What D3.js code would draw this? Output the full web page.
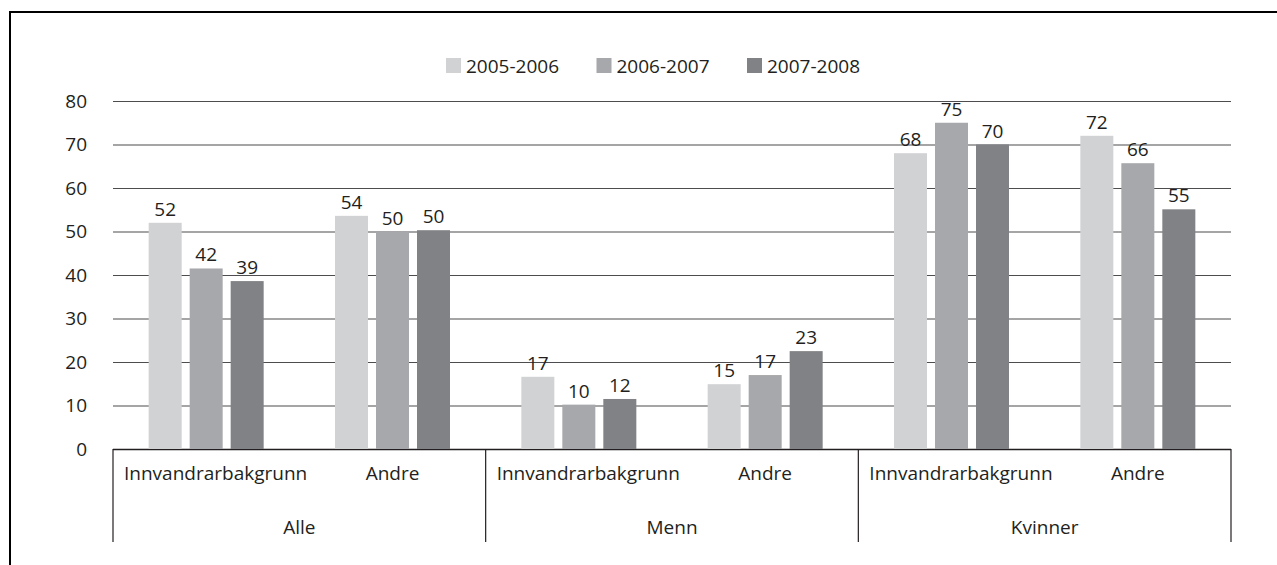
<!DOCTYPE html>
<html lang="no">
<head>
    <meta charset="UTF-8">
    <title>Innvandrarbakgrunn / Andre</title>
    <script src="https://d3js.org/d3.v7.min.js"></script>
    <style>
        body {
            margin: 0;
            background: #fff;
            font-family: "Open Sans", sans-serif;
        }
        svg text {
            fill: #231f20;
        }
    </style>
</head>
<body>
    <svg id="chart" width="1277" height="565"></svg>

    <script>
    // data
    const groups = ["Alle", "Menn", "Kvinner"];
    const subgroups = ["Innvandrarbakgrunn", "Andre"];
    const periods = ["2005-2006", "2006-2007", "2007-2008"];
    const colors = ["#d1d2d4", "#a7a8ab", "#808285"];

    // one row per group+subgroup, one value per period
    const alleInnv = [52.0, 41.5, 38.6];
    const alleAndre = [53.6, 50.0, 50.3];
    const mennInnv = [16.6, 10.2, 11.5];
    const mennAndre = [14.9, 17.0, 22.5];
    const kvinnerInnv = [68.0, 75.0, 70.0];
    const kvinnerAndre = [72.0, 65.7, 55.1];

    const yTicks = [0, 10, 20, 30, 40, 50, 60, 70, 80];

    const rows = [
        { group: "Alle", sub: "Innvandrarbakgrunn", values: alleInnv },
        { group: "Alle", sub: "Andre", values: alleAndre },
        { group: "Menn", sub: "Innvandrarbakgrunn", values: mennInnv },
        { group: "Menn", sub: "Andre", values: mennAndre },
        { group: "Kvinner", sub: "Innvandrarbakgrunn", values: kvinnerInnv },
        { group: "Kvinner", sub: "Andre", values: kvinnerAndre }
    ];

    const svg = d3.select("#chart");
    const fontSize = 19;

    // frame around the figure (only top and left show in the crop)
    svg.append("rect")
        .attr("x", 10)
        .attr("y", 12)
        .attr("width", 1300)
        .attr("height", 600)
        .style("fill", "none")
        .style("stroke", "#000")
        .style("stroke-width", 2);

    const plotLeft = 113, plotRight = 1231, plotTop = 101, plotBottom = 449;

    const y = d3.scaleLinear().domain([0, 80]).range([plotBottom, plotTop]);

    const xGroup = d3.scaleBand().domain(groups).range([plotLeft, plotRight]);
    const xSub = d3.scaleBand().domain(subgroups).range([0, xGroup.bandwidth()]);
    const xBar = d3.scaleBand().domain(periods).range([0, xSub.bandwidth()])
        .paddingInner(0.195).paddingOuter(0.87);

    const color = d3.scaleOrdinal().domain(periods).range(colors);

    // gridlines + y labels
    const yAxis = svg.append("g")
        .attr("transform", `translate(${plotLeft},0)`)
        .call(d3.axisLeft(y)
            .tickValues(yTicks)
            .tickSizeInner(-(plotRight - plotLeft))
            .tickSizeOuter(0)
            .tickPadding(26));
    yAxis.select(".domain").remove();
    yAxis.selectAll(".tick line")
        .style("stroke", d => d === 0 ? "#231f20" : "#4d4d4f")
        .style("stroke-width", d => d === 0 ? 1.5 : 1.2);
    yAxis.selectAll(".tick text")
        .style("font-family", "'Open Sans', sans-serif")
        .style("font-size", fontSize + "px")
        .style("fill", "#231f20");

    // bars
    const rowG = svg.append("g").selectAll("g")
        .data(rows)
        .join("g")
        .attr("transform", d => `translate(${xGroup(d.group) + xSub(d.sub)},0)`);

    rowG.selectAll("rect")
        .data(d => d.values.map((v, i) => ({ period: periods[i], value: v })))
        .join("rect")
        .attr("x", d => xBar(d.period))
        .attr("y", d => y(d.value))
        .attr("width", xBar.bandwidth())
        .attr("height", d => y(0) - y(d.value))
        .style("fill", d => color(d.period));

    rowG.selectAll("text.val")
        .data(d => d.values.map((v, i) => ({ period: periods[i], value: v })))
        .join("text")
        .attr("class", "val")
        .attr("x", d => xBar(d.period) + xBar.bandwidth() / 2)
        .attr("y", d => y(d.value) - 7)
        .style("font-size", fontSize + "px")
        .style("text-anchor", "middle")
        .text(d => Math.round(d.value));

    // category axis below
    const axisG = svg.append("g");
    const sepXs = groups.map(g => xGroup(g)).concat([plotRight]);
    axisG.selectAll("line.sep")
        .data(sepXs)
        .join("line")
        .attr("class", "sep")
        .attr("x1", d => d).attr("x2", d => d)
        .attr("y1", plotBottom).attr("y2", 542)
        .style("stroke", "#231f20")
        .style("stroke-width", 1.2);

    // subgroup labels; long ones keep a small margin from the left tick
    rows.forEach(r => {
        const bx = xGroup(r.group) + xSub(r.sub);
        const t = axisG.append("text")
            .attr("y", 480)
            .style("font-size", fontSize + "px")
            .style("text-anchor", "middle")
            .text(r.sub);
        const w = t.node().getComputedTextLength();
        const cx = Math.max(bx + xSub.bandwidth() / 2, bx + 11 + w / 2);
        t.attr("x", cx);
    });

    axisG.selectAll("text.grp")
        .data(groups)
        .join("text")
        .attr("class", "grp")
        .attr("x", d => xGroup(d) + xGroup.bandwidth() / 2)
        .attr("y", 534)
        .style("font-size", fontSize + "px")
        .style("text-anchor", "middle")
        .text(d => d);

    // legend
    const legend = svg.append("g").attr("transform", "translate(446,58)");
    const item = legend.selectAll("g")
        .data(periods)
        .join("g")
        .attr("transform", (d, i) => `translate(${i * 150.5},0)`);
    item.append("rect")
        .attr("width", 15)
        .attr("height", 15)
        .style("fill", d => color(d));
    item.append("text")
        .attr("x", 20)
        .attr("y", 15)
        .style("font-size", fontSize + "px")
        .text(d => d);
    </script>
</body>
</html>
